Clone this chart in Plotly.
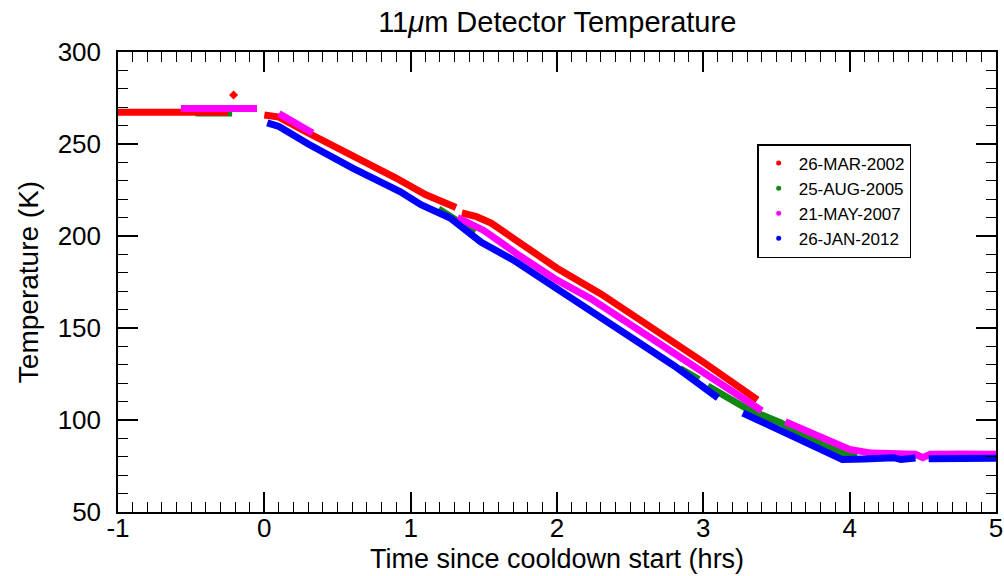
import plotly.graph_objects as go

# ---- data ----
red_x = [-1.0, -0.6, -0.25, None, 0.0, 0.1, 0.3, 0.6, 0.9, 1.1, 1.31, None,
         1.35, 1.45, 1.55, 1.65, 1.75, 2.0, 2.3, 2.6, 3.0, 3.37]
red_y = [267.3, 267.1, 267.2, None, 265.8, 264.6, 256, 244, 231.5, 222.5, 215.5, None,
         212.5, 210.5, 207, 201.5, 196, 182.5, 168.5, 153, 131.5, 111]
red_spike_x = [-0.21]
red_spike_y = [276.6]

green_x = [-0.47, -0.22, None, 1.19, 1.32, 1.44, None, 2.84, 2.97, None,
           3.03, 3.3, 3.53, 3.8, 3.98, 4.05]
green_y = [266.8, 266.8, None, 214.7, 208.5, 202, None, 128, 122, None,
           118.5, 106, 98.4, 87, 81, 80]

magenta_x = [-0.57, -0.3, -0.05, None, 0.1, 0.2, 0.33, None,
             1.32, 1.5, 1.75, 2.0, 2.23, 2.6, 3.0, 3.4, None,
             3.56, 3.7, 3.85, 4.0, 4.15, 4.3, 4.45, 4.5, 4.55, 4.75, 5.0]
magenta_y = [269.3, 269.5, 269.3, None, 266.5, 262, 256, None,
             210, 203, 189, 176, 166, 147, 126, 105, None,
             99, 94, 88.5, 84, 82, 81.5, 81.4, 79.5, 81.4, 81.5, 81.4]

blue_x = [0.02, 0.1, 0.3, 0.6, 0.93, 1.07, 1.27, 1.48, 1.7, 2.04, 2.5, 2.8, 3.1, None,
          3.27, 3.5, 3.7, 3.85, 3.95, 4.1, 4.3, 4.35, 4.45, None, 4.54, 4.75, 5.0]
blue_y = [261.5, 259.5, 250, 237, 224, 217, 209.8, 196.7, 187, 169, 145, 129.5, 112, None,
          103.8, 95, 88, 82, 78.5, 78.8, 79.5, 78.5, 79.3, None, 79, 79.2, 79.2]

x_ticks = [-1, 0, 1, 2, 3, 4, 5]
x_ticktext = ["-1", "0", "1", "2", "3", "4", "5"]
y_ticks = [50, 100, 150, 200, 250, 300]

labels = ["26-MAR-2002", "25-AUG-2005", "21-MAY-2007", "26-JAN-2012"]
colors = ["#ff0000", "#118811", "#ff00ff", "#0000ff"]

FONT = "Liberation Sans, Arial, Helvetica, sans-serif"
LW = 7

fig = go.Figure()

series = {
    0: (red_x, red_y),
    1: (green_x, green_y),
    2: (magenta_x, magenta_y),
    3: (blue_x, blue_y),
}
# draw order: green, red, magenta, blue
for i in [1, 0, 2, 3]:
    xs, ys = series[i]
    fig.add_trace(go.Scatter(x=xs, y=ys, mode="lines", connectgaps=False,
                             line=dict(color=colors[i], width=LW),
                             showlegend=False, hoverinfo="skip"))
    if i == 0:
        fig.add_trace(go.Scatter(x=red_spike_x, y=red_spike_y, mode="markers",
                                 marker=dict(color=colors[0], size=7, symbol="diamond"),
                                 showlegend=False, hoverinfo="skip"))

# legend entries
for i in range(4):
    fig.add_trace(go.Scatter(x=[None], y=[None], mode="markers", name=labels[i],
                             marker=dict(color=colors[i], size=5)))

axis_common = dict(
    showline=True, linecolor="black", linewidth=1.5, mirror="ticks",
    ticks="inside", ticklen=20, tickwidth=1.5, tickcolor="black",
    showgrid=False, zeroline=False, automargin=False,
    tickfont=dict(family=FONT, size=26, color="black"),
)

fig.update_xaxes(range=[-1, 5], tickmode="array", tickvals=x_ticks, ticktext=x_ticktext,
                 minor=dict(dtick=0.1, tick0=0, ticklen=10, tickwidth=1.2, ticks="inside",
                            tickcolor="black"),
                 ticklabelstandoff=-8,
                 **axis_common)
fig.update_yaxes(range=[50, 300], tickmode="array", tickvals=y_ticks,
                 minor=dict(dtick=10, tick0=0, ticklen=10, tickwidth=1.2, ticks="inside",
                            tickcolor="black"),
                 title=dict(text="Temperature (K)",
                            font=dict(family=FONT, size=28, color="black"), standoff=11),
                 ticklabelstandoff=10,
                 **axis_common)

fig.add_annotation(text="Time since cooldown start (hrs)", xref="paper", yref="paper",
                   x=0.5, y=-0.1025, xanchor="center", yanchor="middle", showarrow=False,
                   font=dict(family=FONT, size=27, color="black"))

fig.update_layout(
    width=1004, height=576,
    margin=dict(l=118, r=8, t=52, b=64),
    paper_bgcolor="white", plot_bgcolor="white",
    title=dict(text="11<i>\u03bc</i>m Detector Temperature", x=0.555, xanchor="center",
               y=0.962, yanchor="middle",
               font=dict(family=FONT, size=29, color="black")),
    legend=dict(x=0.728, y=0.80, xanchor="left", yanchor="top",
                bgcolor="white", bordercolor="black", borderwidth=1.5,
                font=dict(family=FONT, size=17, color="black"),
                itemwidth=30, tracegroupgap=0),
    showlegend=True,
)

fig.write_html("out.html")
